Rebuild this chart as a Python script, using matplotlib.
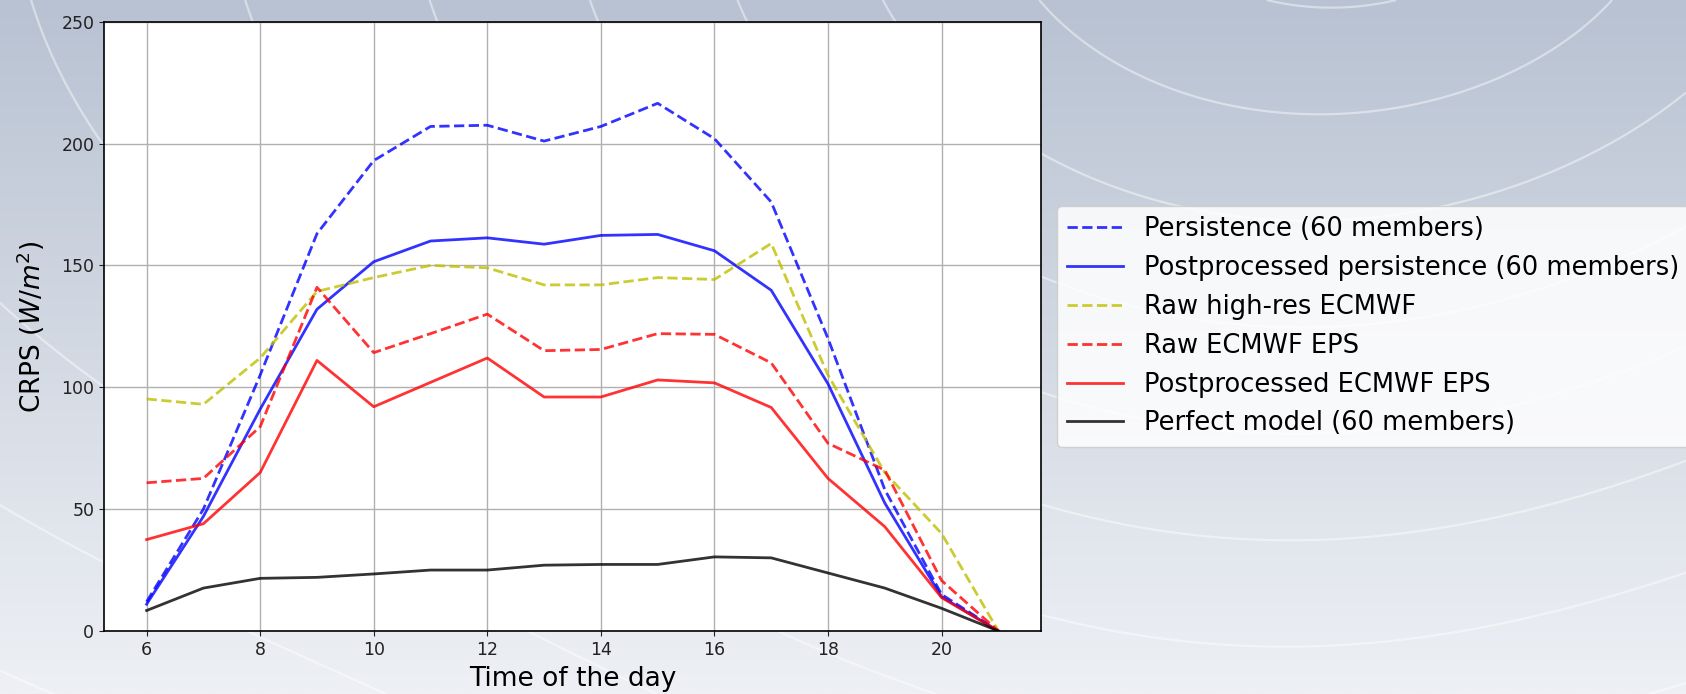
import numpy as np
import matplotlib
matplotlib.use("Agg")
import matplotlib.pyplot as plt
from matplotlib.colors import LinearSegmentedColormap

hours = [6, 7, 8, 9, 10, 11, 12, 13, 14, 15, 16, 17, 18, 19, 20, 21]

persistence = [12, 50, 105, 163, 193, 207, 207.5, 201, 207, 216.5, 202, 176, 120, 58, 15, 0]
pp_persistence = [11, 47, 91, 132, 151.5, 160, 161.3, 158.7, 162.3, 162.7, 156, 139.8, 101.4, 52.5, 14, 0]
raw_highres = [95.2, 93, 112, 139.3, 145, 150, 149, 142, 142, 145, 144.2, 159, 105, 65, 40, 0]
raw_eps = [60.8, 62.6, 83.8, 141, 114.2, 122, 130, 115, 115.5, 122, 121.7, 110, 77, 66, 20.7, 0]
pp_eps = [37.5, 44, 65, 111, 92, 102, 112, 96, 96, 103, 101.8, 91.7, 62.6, 42.8, 13.7, 0]
perfect = [8.4, 17.6, 21.6, 22, 23.4, 25, 25, 27, 27.3, 27.3, 30.4, 30, 23.8, 17.6, 9.3, 0]

fig = plt.figure(figsize=(16.86, 6.94), dpi=100)

# background: grey-blue gradient with faint white contour lines
bg = fig.add_axes([0, 0, 1, 1], zorder=-1)
bg.axis("off")
cmap = LinearSegmentedColormap.from_list("bg", ["#b8c2d2", "#d3d9e3", "#eef0f5"])
grad = np.linspace(0, 1, 300).reshape(-1, 1)
bg.imshow(grad, cmap=cmap, aspect="auto", extent=[0, 1686, 694, 0])
gx, gy = np.meshgrid(np.linspace(0, 1686, 400), np.linspace(0, 694, 200))
field = np.sqrt((gx - 1350) ** 2 + (1.6 * (gy + 120)) ** 2) + 60 * np.sin(gx / 260)
bg.contour(gx, gy, field, levels=np.arange(150, 2400, 170), colors="white",
           linewidths=1.6, alpha=0.45)
bg.set_xlim(0, 1686)
bg.set_ylim(694, 0)

ax = fig.add_axes([0.0617, 0.0908, 0.5557, 0.878])
ax.set_facecolor("white")
ax.plot(hours, persistence, "b--", lw=2, alpha=0.8, label="Persistence (60 members)")
ax.plot(hours, pp_persistence, "b-", lw=2, alpha=0.8, label="Postprocessed persistence (60 members)")
ax.plot(hours, raw_highres, "y--", lw=2, alpha=0.8, label="Raw high-res ECMWF")
ax.plot(hours, raw_eps, "r--", lw=2, alpha=0.8, label="Raw ECMWF EPS")
ax.plot(hours, pp_eps, "r-", lw=2, alpha=0.8, label="Postprocessed ECMWF EPS")
ax.plot(hours, perfect, "k-", lw=2, alpha=0.8, label="Perfect model (60 members)")

ax.set_ylim(0, 250)
ax.set_xticks([6, 8, 10, 12, 14, 16, 18, 20])
ax.set_yticks([0, 50, 100, 150, 200, 250])
ax.grid(True, color="#b0b0b0", lw=1)
ax.tick_params(labelsize=12.5, colors="#222222")
for s in ax.spines.values():
    s.set_linewidth(1.2)
ax.set_xlabel("Time of the day", fontsize=19, labelpad=5)
ax.set_ylabel("CRPS ($W/m^2$)", fontsize=19, labelpad=10)

ax.legend(loc="center left", bbox_to_anchor=(1.003, 0.5), fontsize=18.5,
          framealpha=0.85, handlelength=2.2)

fig.savefig("out.png", dpi=100)
